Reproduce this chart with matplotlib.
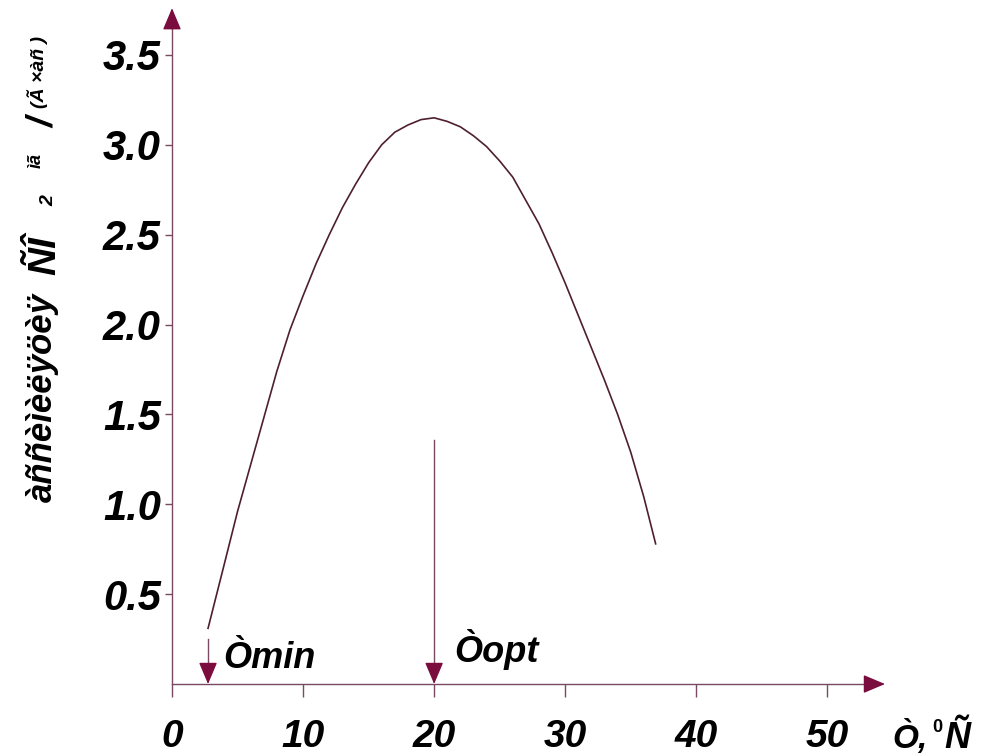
import numpy as np
import matplotlib.pyplot as plt

# values
temp = [2.75, 4, 5, 6, 7, 8, 9, 10, 11, 12, 13, 14, 15, 16, 17, 18, 19, 20,
        21, 22, 23, 24, 25, 26, 27, 28, 29, 30, 31, 32, 33, 34, 35, 36, 36.9]
rate = [0.31, 0.67, 0.96, 1.22, 1.48, 1.74, 1.97, 2.16, 2.34, 2.50, 2.65,
        2.78, 2.90, 3.00, 3.07, 3.11, 3.14, 3.15, 3.13, 3.10, 3.05, 2.99,
        2.91, 2.82, 2.69, 2.56, 2.40, 2.23, 2.05, 1.87, 1.69, 1.50, 1.29,
        1.04, 0.78]
x_ticks = [0, 10, 20, 30, 40, 50]
y_ticks = [0.5, 1.0, 1.5, 2.0, 2.5, 3.0, 3.5]
t_min = 2.75
t_opt = 20
x_max = 54.4
y_max = 3.76

line_col = '#7a4a62'
head_col = '#7a0d3e'
curve_col = '#4e1f30'
font = 'Liberation Sans'

fig = plt.figure(figsize=(10, 7.56), dpi=100)
ax = fig.add_axes([0.172, 0.0952, 0.713, 0.894])
ax.set_xlim(0, x_max)
ax.set_ylim(0, y_max)
for s in ax.spines.values():
    s.set_visible(False)

# axes with arrow heads
ax.plot([0, x_max - 1.0], [0, 0], color=line_col, lw=1, clip_on=False)
ax.plot([0, 0], [0, y_max - 0.06], color=line_col, lw=1, clip_on=False)
hs = dict(arrowstyle='-|>,head_length=0.9,head_width=0.38', color=head_col,
          lw=1, mutation_scale=15, shrinkA=0, shrinkB=0)
ax.annotate('', xy=(x_max, 0), xytext=(x_max - 1.1, 0), arrowprops=hs,
            annotation_clip=False)
ax.annotate('', xy=(0, y_max), xytext=(0, y_max - 0.08), arrowprops=hs,
            annotation_clip=False)

# curve
ax.plot(temp, rate, color=curve_col, lw=1.2)

# Tmin / Topt arrows
ax.plot([t_min, t_min], [0.25, 0.06], color=line_col, lw=1)
ax.annotate('', xy=(t_min, 0), xytext=(t_min, 0.07), arrowprops=hs)
ax.plot([t_opt, t_opt], [1.36, 0.06], color=line_col, lw=1)
ax.annotate('', xy=(t_opt, 0), xytext=(t_opt, 0.07), arrowprops=hs)

ax.text(3.9, 0.09, 'Òmin', fontsize=26, fontweight='bold', style='italic',
        family=font)
ax.text(21.5, 0.12, 'Òopt', fontsize=26, fontweight='bold', style='italic',
        family=font)

ax.set_xticks(x_ticks)
ax.set_yticks(y_ticks)
ax.set_yticklabels(['%.1f' % v for v in y_ticks])
ax.tick_params(axis='x', direction='out', length=9.5, width=1, color=line_col,
               pad=16, labelsize=28)
ax.tick_params(axis='y', direction='out', length=5, width=1, color=line_col,
               pad=3, labelsize=30)
for lab in ax.get_xticklabels() + ax.get_yticklabels():
    lab.set_fontweight('bold')
    lab.set_fontstyle('italic')
    lab.set_family(font)

# x axis label
fig.text(0.892, 0.01, 'Ò,', fontsize=24, fontweight='bold', style='italic',
         family=font)
fig.text(0.932, 0.032, '0', fontsize=13, fontweight='bold', family=font)
fig.text(0.944, 0.01, 'Ñ', fontsize=26, fontweight='bold', style='italic',
         family=font)

# y axis label, pieces stacked along the rotated baseline
kw = dict(rotation=90, fontweight='bold', family=font, ha='center', va='bottom')
fig.text(0.042, (756 - 502) / 756, 'àññèìèëÿöèÿ', fontsize=25, style='italic', **kw)
fig.text(0.045, (756 - 275) / 756, 'ÑÎ', fontsize=28, style='italic', **kw)
fig.text(0.049, (756 - 206) / 756, '2', fontsize=14, style='italic', **kw)
fig.text(0.036, (756 - 168) / 756, 'ìã', fontsize=13, style='italic', **kw)
fig.text(0.044, (756 - 128) / 756, '/', fontsize=26, style='italic', **kw)
fig.text(0.038, (756 - 108) / 756, '(Ã ×àñ )', fontsize=14, style='italic', **kw)

fig.savefig('out.png', dpi=100)
